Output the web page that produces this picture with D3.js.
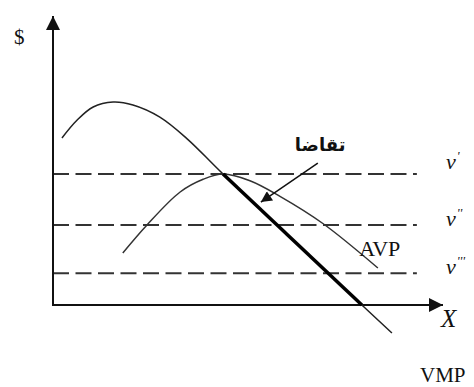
<!DOCTYPE html>
<html>
<head>
<meta charset="utf-8">
<script src="https://cdn.jsdelivr.net/npm/d3@7"></script>
<style>
  html, body { margin: 0; padding: 0; background: #fff; }
  svg { display: block; }
</style>
</head>
<body>
<div id="chart"></div>
<script>
// Chart values (in axis units, 0..100 both ways)
const priceLevels = [45.3, 27.7, 11];
const priceLabels = ["v", "v", "v"];
const pricePrimes = [1, 2, 3];

const vmpX = [2.3, 6.2, 10.3, 15.4, 20.5, 27.4, 34.4, 43.6, 79.2, 86.9];
const vmpY = [57.8, 64.0, 68.5, 70.2, 69.2, 65.0, 57.5, 45.3, 0, -9.7];

const avpX = [17.9, 24.1, 32.6, 38.5, 43.6, 50.5, 58.2, 69.2, 83.3];
const avpY = [18.0, 27.7, 39.1, 43.5, 45.3, 43.0, 37.6, 28.2, 12.8];

// demand = the part of VMP below AVP's peak
const demandX = [43.6, 79.2];
const demandY = [45.3, 0];

const arrowX = [67.9, 53.3];
const arrowY = [49.1, 35.6];

const width = 474;
const height = 387;

const x = d3.scaleLinear().domain([0, 100]).range([53, 443]);
const y = d3.scaleLinear().domain([0, 100]).range([305, 16]);

const svg = d3.select("#chart")
  .append("svg")
  .attr("width", width)
  .attr("height", height);

const defs = svg.append("defs");
defs.append("marker")
  .attr("id", "head")
  .attr("viewBox", "0 0 10 10")
  .attr("refX", 10)
  .attr("refY", 5)
  .attr("markerWidth", 16)
  .attr("markerHeight", 14)
  .attr("markerUnits", "userSpaceOnUse")
  .attr("orient", "auto")
  .append("path")
  .attr("d", "M0,0L10,5L0,10Z")
  .attr("fill", "#111");

defs.append("marker")
  .attr("id", "small")
  .attr("viewBox", "0 0 10 10")
  .attr("refX", 10)
  .attr("refY", 5)
  .attr("markerWidth", 14)
  .attr("markerHeight", 11)
  .attr("markerUnits", "userSpaceOnUse")
  .attr("orient", "auto")
  .append("path")
  .attr("d", "M0,0L10,5L0,10Z")
  .attr("fill", "#111");

// Dashed price lines
svg.append("g")
  .selectAll("line")
  .data(priceLevels)
  .enter().append("line")
  .attr("x1", x(0))
  .attr("x2", x(93.3))
  .attr("y1", d => y(d))
  .attr("y2", d => y(d))
  .attr("stroke", "#333")
  .attr("stroke-width", 2)
  .attr("stroke-dasharray", "16,6.5");

// Axes
svg.append("line")
  .attr("x1", x(0)).attr("y1", y(0))
  .attr("x2", x(0)).attr("y2", y(100))
  .attr("stroke", "#111").attr("stroke-width", 2)
  .attr("marker-end", "url(#head)");

svg.append("line")
  .attr("x1", x(0) - 1).attr("y1", y(0))
  .attr("x2", x(100)).attr("y2", y(0))
  .attr("stroke", "#111").attr("stroke-width", 2)
  .attr("marker-end", "url(#head)");

const line = d3.line()
  .x(d => x(d[0]))
  .y(d => y(d[1]))
  .curve(d3.curveCatmullRom.alpha(0.5));

// VMP curve
svg.append("path")
  .datum(d3.zip(vmpX, vmpY))
  .attr("d", line)
  .attr("fill", "none")
  .attr("stroke", "#222")
  .attr("stroke-width", 1.5);

// AVP curve
svg.append("path")
  .datum(d3.zip(avpX, avpY))
  .attr("d", line)
  .attr("fill", "none")
  .attr("stroke", "#333")
  .attr("stroke-width", 1.5);

// Demand segment (bold)
svg.append("path")
  .datum(d3.zip(demandX, demandY))
  .attr("d", d3.line().x(d => x(d[0])).y(d => y(d[1])))
  .attr("fill", "none")
  .attr("stroke", "#000")
  .attr("stroke-width", 3.5);

// Pointer arrow
svg.append("line")
  .attr("x1", x(arrowX[0])).attr("y1", y(arrowY[0]))
  .attr("x2", x(arrowX[1])).attr("y2", y(arrowY[1]))
  .attr("stroke", "#111").attr("stroke-width", 1.5)
  .attr("marker-end", "url(#small)");

// Labels
const serif = "'Liberation Serif', 'Times New Roman', serif";

svg.append("text")
  .attr("x", x(0) - 39)
  .attr("y", y(100) + 28)
  .attr("font-family", serif)
  .attr("font-size", 21)
  .attr("fill", "#111")
  .text("$");

svg.append("text")
  .attr("x", x(68.5))
  .attr("y", y(55.4) + 6)
  .attr("text-anchor", "middle")
  .attr("font-family", "'DejaVu Sans', sans-serif")
  .attr("font-weight", "bold")
  .attr("font-size", 18)
  .attr("fill", "#111")
  .text("تقاضا");

const vl = svg.append("g")
  .selectAll("text")
  .data(priceLevels)
  .enter().append("text")
  .attr("x", x(100) + 3)
  .attr("y", (d, i) => y(d) + (i === 0 ? -5 : 1))
  .attr("font-family", serif)
  .attr("font-style", "italic")
  .attr("font-size", 22)
  .attr("fill", "#111");
vl.append("tspan").text((d, i) => priceLabels[i]);
vl.append("tspan")
  .attr("dy", -9)
  .attr("dx", 1)
  .attr("font-size", 13)
  .text((d, i) => "'".repeat(pricePrimes[i]));

svg.append("text")
  .attr("x", x(100) - 2)
  .attr("y", y(0) + 22)
  .attr("font-family", serif)
  .attr("font-style", "italic")
  .attr("font-size", 25)
  .attr("fill", "#111")
  .text("X");

svg.append("text")
  .attr("x", x(78.5))
  .attr("y", y(17))
  .attr("font-family", serif)
  .attr("font-size", 22)
  .attr("fill", "#111")
  .text("AVP");

svg.append("text")
  .attr("x", x(100) - 23)
  .attr("y", y(0) + 77)
  .attr("font-family", serif)
  .attr("font-size", 21)
  .attr("fill", "#111")
  .text("VMP");
</script>
</body>
</html>
